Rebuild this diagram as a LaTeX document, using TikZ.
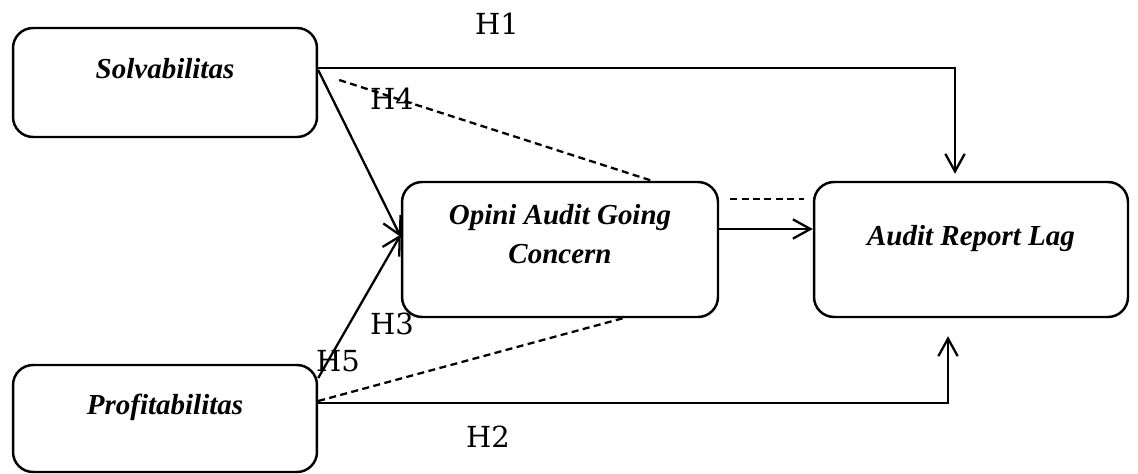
\documentclass[tikz,border=0pt]{standalone}
\usepackage{fontspec}
\setmainfont{Liberation Serif}
\newfontfamily\hypfont{DejaVu Serif}
\usetikzlibrary{arrows.meta,positioning,calc}

\begin{document}
\begin{tikzpicture}[x=0.02cm,y=-0.02cm]
      \tikzstyle{every node}=[inner sep=0pt]
      \tikzstyle{var}=[draw,line width=1.4pt,rounded corners=0.4cm,align=center,
        font=\fontsize{16.5}{22.5}\selectfont\bfseries\itshape,text height=12pt,text depth=17pt]
      \tikzstyle{hyp}=[font=\hypfont\fontsize{16.5}{20}\selectfont]
      \tikzstyle{link}=[line width=1.3pt,-{Straight Barb[length=10pt,width=11pt]}]
      \tikzstyle{dashlink}=[line width=1.3pt,dash pattern=on 4pt off 2.5pt]
      \useasboundingbox (0,0) rectangle (1138,473);
      \node[var,minimum width=6.08cm,minimum height=2.18cm] (S) at (165,82.5) {Solvabilitas};
      \node[var,minimum width=6.08cm,minimum height=2.14cm] (P) at (165,418.5) {Profitabilitas};
      \node[var,minimum width=6.32cm,minimum height=2.7cm,text height=33pt,text depth=16.6pt] (O) at (560,249.5) {Opini Audit Going\\Concern};
      \node[var,minimum width=6.28cm,minimum height=2.7cm] (A) at (971,249.5) {Audit Report Lag};
      \draw[link] ([yshift=0.29cm]S.east) -| ([xshift=-0.32cm,yshift=0.14cm]A.north);
      \draw[link] ([yshift=0.31cm]P.east) -| ([xshift=-0.46cm,yshift=-0.36cm]A.south);
      \draw[link] ([yshift=0.25cm]S.east) -- ([yshift=0.25cm]O.west);
      \draw[link] ([yshift=0.81cm]P.east) -- ([yshift=0.3cm]O.west);
      \draw[link] ([yshift=0.41cm]O.east) -- ([yshift=0.41cm]A.west);
      \draw[dashlink] ([xshift=0.42cm,yshift=0.05cm]S.east) -- ([xshift=1.84cm]O.north);
      \draw[dashlink] ([yshift=0.35cm]P.east) -- ([xshift=1.26cm]O.south);
      \draw[dashlink] ([xshift=0.22cm,yshift=1.01cm]O.east) -- ([xshift=-0.18cm,yshift=1.01cm]A.west);
      \node[hyp] (h1) at (497,24) {H1};
      \node[hyp] (h4) at (392,99) {H4};
      \node[hyp] (h3) at (392,324) {H3};
      \node[hyp] (h5) at (338,361) {H5};
      \node[hyp] (h2) at (488,437) {H2};
    \end{tikzpicture}
\end{document}
